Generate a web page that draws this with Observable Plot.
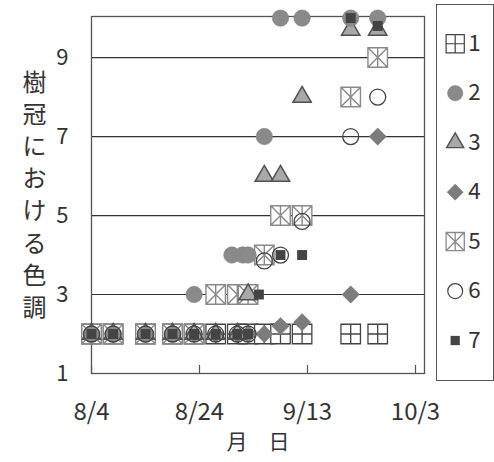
<!DOCTYPE html>
<html><head><meta charset="utf-8">
<script src="https://cdn.jsdelivr.net/npm/d3@7"></script>
<script src="https://cdn.jsdelivr.net/npm/@observablehq/plot@0.6"></script>
<style>
html,body{margin:0;padding:0;background:#fff;}
#wrap{position:relative;width:494px;height:462px;overflow:hidden;font-family:"Noto Sans CJK JP",sans-serif;}
#chart{position:absolute;left:0;top:0;}
#legend{position:absolute;left:436px;top:4px;}
#chart [aria-label^="x-axis"] text{font-size:24px;}
#chart [aria-label^="y-axis"] text{font-size:22px;}
</style></head><body>
<div id="wrap"><div id="chart"></div><div id="legend"></div></div>
<script>
// ---- data ----
const seriesNames = ["1","2","3","4","5","6","7"];
const s1Dates = ["8/4","8/8","8/14","8/19","8/23","8/27","8/31","9/2","9/5","9/8","9/12","9/21","9/26"];
const s1Values = [2,2,2,2,2,2,2,2,2,2,2,2,2];
const s2Dates = ["8/4","8/8","8/14","8/19","8/23","8/30","9/1","9/2","9/5","9/8","9/12","9/21","9/26"];
const s2Values = [2,2,2,2,3,4,4,4,7,10,10,10,10];
const s3Dates = ["8/4","8/8","8/14","8/19","8/23","8/27","8/31","9/2","9/5","9/8","9/12","9/21","9/26"];
const s3Values = [2,2,2,2,2,2,2,3,6,6,8,9.7,9.7];
const s4Dates = ["8/4","8/8","8/14","8/19","8/23","8/27","8/31","9/2","9/5","9/8","9/12","9/21","9/26"];
const s4Values = [2,2,2,2,2,2,2,2,2,2.2,2.3,3,7];
const s5Dates = ["8/4","8/8","8/14","8/19","8/23","8/27","8/31","9/2","9/5","9/8","9/12","9/21","9/26"];
const s5Values = [2,2,2,2,2,3,3,3,4,5,5,8,9];
const s6Dates = ["8/4","8/8","8/14","8/19","8/23","8/27","8/31","9/2","9/5","9/8","9/12","9/21","9/26"];
const s6Values = [2,2,2,2,2,2,2,2,3.85,4,4.85,7,8];
const s7Dates = ["8/4","8/8","8/14","8/19","8/23","8/27","8/31","9/2","9/4","9/8","9/12","9/21","9/26"];
const s7Values = [2,2,2,2,2,2,2,2,3,4,4,10,9.8];
const xTickLabels = ["8/4","8/24","9/13","10/3"];
const yTicks = [1,3,5,7,9];
const gridValues = [3,5,7,9];
const xTitle = "月　日";
const yTitle = "樹冠における色調";

// ---- build ----
const parse = s => { const [m, d] = s.split("/").map(Number); return new Date(Date.UTC(2000, m - 1, d)); };
const allDates = [s1Dates,s2Dates,s3Dates,s4Dates,s5Dates,s6Dates,s7Dates];
const allValues = [s1Values,s2Values,s3Values,s4Values,s5Values,s6Values,s7Values];
const data = {};
seriesNames.forEach((n, i) => { data[n] = allDates[i].map((d, j) => ({date: parse(d), value: allValues[i][j]})); });
const xTickDates = xTickLabels.map(parse);
const xStart = parse("8/4");
const xEnd = new Date(Date.UTC(2000, 9, 4, 16));

const boxPlus = {draw(ctx, size) { const h = Math.sqrt(size) / 2;
  ctx.moveTo(-h,-h); ctx.lineTo(h,-h); ctx.lineTo(h,h); ctx.lineTo(-h,h); ctx.closePath();
  ctx.moveTo(0,-h); ctx.lineTo(0,h); ctx.moveTo(-h,0); ctx.lineTo(h,0); }};
const boxStar = {draw(ctx, size) { const h = Math.sqrt(size) / 2;
  ctx.moveTo(-h,-h); ctx.lineTo(h,-h); ctx.lineTo(h,h); ctx.lineTo(-h,h); ctx.closePath();
  ctx.moveTo(-h,-h); ctx.lineTo(h,h); ctx.moveTo(h,-h); ctx.lineTo(-h,h);
  ctx.moveTo(0,-h); ctx.lineTo(0,h); }};

const styles = {
  "1": {symbol: boxPlus, r: 11, fill: "white", stroke: "#444", strokeWidth: 1.3},
  "2": {symbol: "circle", r: 8.2, fill: "#8a8a8a", stroke: "#858585", strokeWidth: 0.6},
  "3": {symbol: "triangle", r: 6.8, fill: "#a8a8a8", stroke: "#505050", strokeWidth: 1.5},
  "4": {symbol: "diamond2", r: 7.8, fill: "#7c7c7c", stroke: "#777", strokeWidth: 0.5},
  "5": {symbol: boxStar, r: 11, fill: "white", stroke: "#8a8a8a", strokeWidth: 1.4},
  "6": {symbol: "circle", r: 8, fill: "none", stroke: "#444", strokeWidth: 1.3},
  "7": {symbol: "square", r: 5.6, fill: "#444", stroke: "none"}
};
const drawOrder = ["1","5","4","3","2","6","7"];

const chart = Plot.plot({
  width: 494, height: 462,
  marginLeft: 91, marginRight: 70, marginTop: 16, marginBottom: 89,
  style: {fontFamily: '"Noto Sans CJK JP", sans-serif', background: "transparent", color: "#333"},
  x: {type: "utc", domain: [xStart, xEnd], ticks: xTickDates, tickFormat: d => `${d.getUTCMonth()+1}/${d.getUTCDate()}`, tickSize: 0, tickPadding: 29, label: null},
  y: {domain: [1, 10.04], ticks: yTicks, tickSize: 0, tickPadding: 23, label: null},
  marks: [
    Plot.ruleY(gridValues, {stroke: "#333", strokeWidth: 1.2}),
    Plot.frame({stroke: "#555", strokeWidth: 1.3}),
    Plot.ruleX(xTickDates, {insetTop: 349, stroke: "#555", strokeWidth: 1.2}),
    ...drawOrder.map(n => Plot.dot(data[n], {x: "date", y: "value", ...styles[n]})),
    Plot.text([xTitle], {frameAnchor: "bottom", dy: 75, fontSize: 21, fill: "#333"}),
    Plot.text([yTitle], {frameAnchor: "left", dx: -69, dy: -2, text: d => Array.from(d).join("\n"), fontSize: 24, lineHeight: 1.34, fill: "#333"})
  ]
});
document.getElementById("chart").appendChild(chart);

const legend = Plot.plot({
  width: 60, height: 402,
  margin: 0,
  style: {fontFamily: '"Noto Sans CJK JP", sans-serif', background: "transparent", color: "#333", border: "1.3px solid #555", boxSizing: "border-box", overflow: "visible"},
  x: {axis: null},
  y: {type: "point", domain: seriesNames, range: [38, 361], padding: 0, axis: null},
  marks: [
    ...seriesNames.map(n => Plot.dot([n], {y: d => d, frameAnchor: "left", dx: 19, ...styles[n]})),
    Plot.text(seriesNames, {y: d => d, text: d => d, frameAnchor: "left", dx: 33, textAnchor: "start", fontSize: 24, fill: "#333"})
  ]
});
document.getElementById("legend").appendChild(legend);
</script>
</body></html>
